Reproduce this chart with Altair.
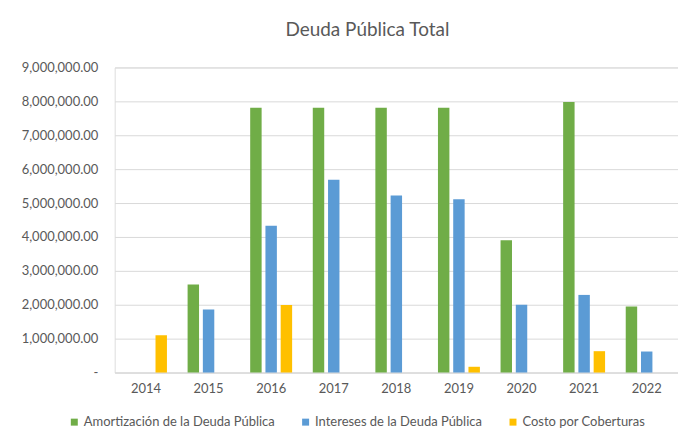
import altair as alt
import pandas as pd

years = ["2014", "2015", "2016", "2017", "2018", "2019", "2020", "2021", "2022"]
series = ["Amortización de la Deuda Pública", "Intereses de la Deuda Pública", "Costo por Coberturas"]
amortizacion = [None, 2.60e6, 7.81e6, 7.81e6, 7.81e6, 7.81e6, 3.90e6, 7.98e6, 1.95e6]
intereses = [None, 1.86e6, 4.33e6, 5.69e6, 5.22e6, 5.11e6, 2.00e6, 2.29e6, 0.62e6]
costo = [1.10e6, None, 1.99e6, None, None, 0.17e6, None, 0.63e6, None]
colors = ["#70AD47", "#5B9BD5", "#FFC000"]
y_ticks = [0, 1e6, 2e6, 3e6, 4e6, 5e6, 6e6, 7e6, 8e6, 9e6]

rows = []
for name, vals in zip(series, [amortizacion, intereses, costo]):
    for yr, v in zip(years, vals):
        if v is not None:
            rows.append({"Año": yr, "Serie": name, "Valor": v})
df = pd.DataFrame(rows)

FONT = "Lato"
GREY = "#595959"

chart = alt.Chart(df).mark_bar().encode(
    x=alt.X("Año:N", sort=years, title=None,
            scale=alt.Scale(domain=years, paddingInner=0.33, paddingOuter=0.165),
            axis=alt.Axis(labelAngle=0, ticks=False, domain=True, domainColor="#d9d9d9",
                          labelPadding=10, labelFontSize=13, labelColor=GREY, labelFont=FONT)),
    xOffset=alt.XOffset("Serie:N", sort=series,
                        scale=alt.Scale(domain=series, paddingInner=0.25)),
    y=alt.Y("Valor:Q", title=None,
            scale=alt.Scale(domain=[0, 9e6], nice=False),
            axis=alt.Axis(values=y_ticks, ticks=False, domain=False, gridColor="#d9d9d9",
                          labelExpr="datum.value == 0 ? '-' : format(datum.value, ',.2f')",
                          labelPadding=17, labelFontSize=13, labelColor=GREY, labelFont=FONT)),
    color=alt.Color("Serie:N", sort=series,
                    scale=alt.Scale(domain=series, range=colors),
                    legend=alt.Legend(title=None, orient="none", direction="horizontal",
                                      legendX=-47, legendY=349, symbolType="square",
                                      symbolSize=49, symbolStrokeWidth=0, labelOffset=3,
                                      columnPadding=24, labelFontSize=13, labelColor=GREY,
                                      labelFont=FONT, labelLimit=400)),
).properties(
    width=565,
    height=306,
    autosize="none",
    padding={"left": 107, "top": 59, "right": 0, "bottom": 55},
    title=alt.TitleParams("Deuda Pública Total", fontSize=19, font=FONT, color=GREY,
                          fontWeight="normal", anchor="middle", frame="group",
                          offset=22, dx=-29),
).configure_view(stroke=None).configure(background="white")

chart.save("out.html", embed_options={"renderer": "svg", "actions": False})
